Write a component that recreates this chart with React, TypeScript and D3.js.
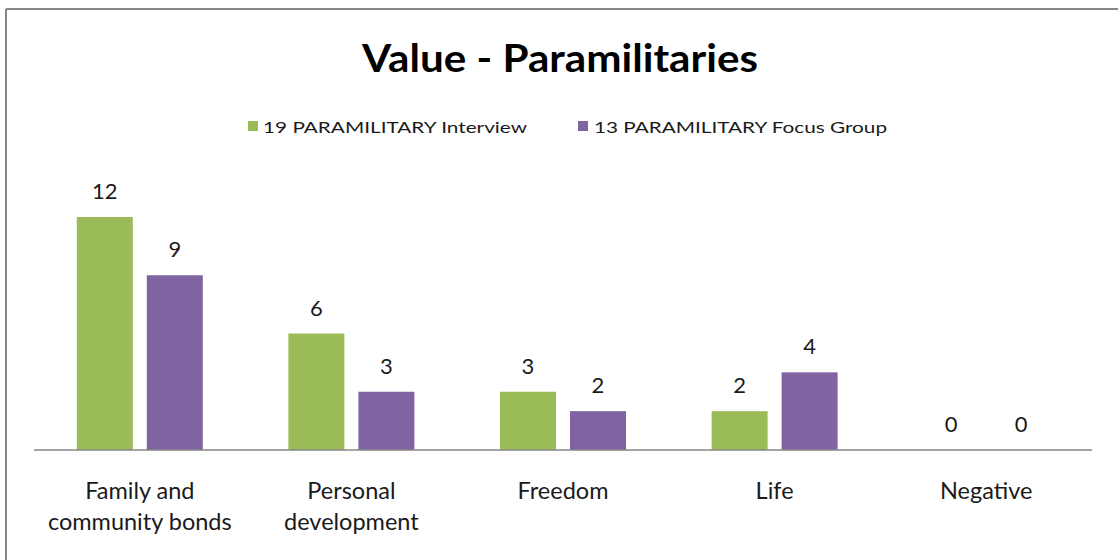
import React from "react";
import * as d3 from "d3";

const categories = [
  ["Family and", "community bonds"],
  ["Personal", "development"],
  ["Freedom"],
  ["Life"],
  ["Negative"],
];
const categoryKeys = ["Family and community bonds", "Personal development", "Freedom", "Life", "Negative"];
const seriesNames = ["19 PARAMILITARY Interview", "13 PARAMILITARY Focus Group"];
const interview = [12, 6, 3, 2, 0];
const focusGroup = [9, 3, 2, 4, 0];
const colors = ["#9BBB59", "#8064A2"];

export default function App() {
  const W = 1118, H = 560;
  const baseY = 450;
  const x = d3.scaleBand<string>().domain(categoryKeys).range([34, 1092]).paddingInner(0).paddingOuter(0);
  const y = d3.scaleLinear().domain([0, 12]).range([baseY, 217]);
  const inner = d3.scaleBand<string>().domain(["0", "1"]).range([0, 126]).paddingInner(0.2);
  const groupOffset = (x.bandwidth() - 126) / 2;
  const series = [interview, focusGroup];
  const font = "Lato, 'Open Sans', sans-serif";
  const txt = "#1a1a1a";

  return (
    <div style={{ position: "absolute", left: 0, top: 0, width: W, height: H, background: "#fff" }}>
      <svg width={W} height={H} style={{ display: "block" }}>
        <rect x={0} y={0} width={W} height={H} fill="#fff" />
        <line x1={6} y1={9} x2={W} y2={9} stroke="#868686" strokeWidth={2} />
        <line x1={6} y1={9} x2={6} y2={H} stroke="#868686" strokeWidth={2} />
        <text x={560} y={72} textAnchor="middle" fontFamily={font} fontWeight="bold" fontSize={39} fill="#000" textLength={396} lengthAdjust="spacingAndGlyphs">
          Value - Paramilitaries
        </text>
        {/* legend */}
        <rect x={248} y={121} width={10} height={10} fill={colors[0]} />
        <text x={263} y={133} fontFamily={font} fontSize={16} fill={txt} textLength={264} lengthAdjust="spacingAndGlyphs">{seriesNames[0]}</text>
        <rect x={578} y={121} width={10} height={10} fill={colors[1]} />
        <text x={594} y={133} fontFamily={font} fontSize={16} fill={txt} textLength={293} lengthAdjust="spacingAndGlyphs">{seriesNames[1]}</text>
        {/* bars */}
        {categoryKeys.map((c, i) => (
          <g key={c}>
            {series.map((s, j) => {
              const bx = (x(c) as number) + groupOffset + (inner(String(j)) as number);
              const bw = inner.bandwidth();
              const top = y(s[i]);
              return (
                <g key={j}>
                  {s[i] > 0 && <rect x={bx} y={top} width={bw} height={baseY - top} fill={colors[j]} />}
                  <text x={bx + bw / 2} y={top - 18} textAnchor="middle" fontFamily={font} fontSize={22} fill={txt}>{s[i]}</text>
                </g>
              );
            })}
            {categories[i].map((line, k) => (
              <text key={k} x={(x(c) as number) + x.bandwidth() / 2} y={baseY + 49 + k * 31} textAnchor="middle" fontFamily={font} fontSize={23.5} fill={txt}>{line}</text>
            ))}
          </g>
        ))}
        <line x1={34} y1={baseY} x2={1092} y2={baseY} stroke="#868686" strokeWidth={1.5} />
      </svg>
    </div>
  );
}
